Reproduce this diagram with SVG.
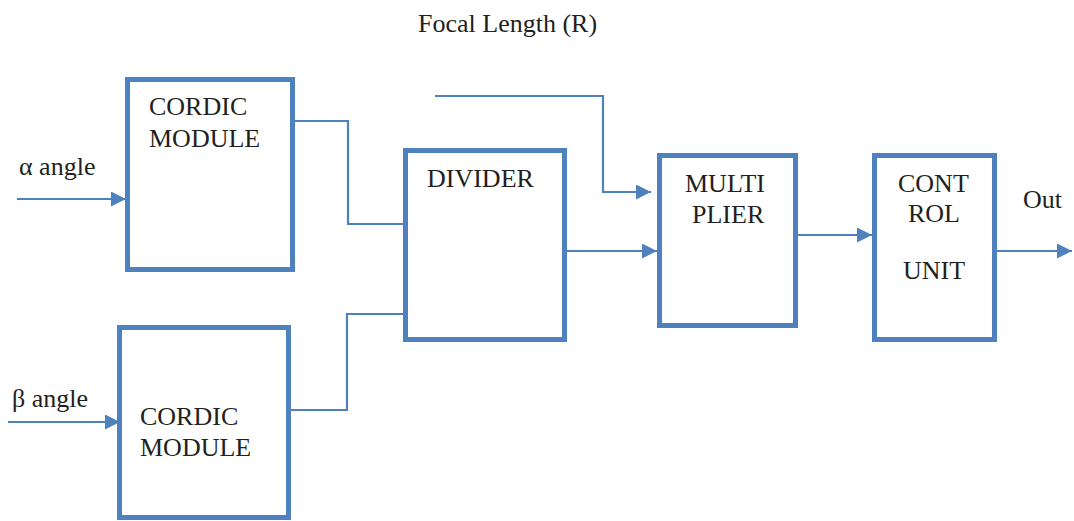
<svg xmlns="http://www.w3.org/2000/svg" width="1074" height="521" viewBox="0 0 1074 521">
<style>
.box{fill:#fff;stroke:#4F81BD;stroke-width:5}
.ln{fill:none;stroke:#4F81BD;stroke-width:2.2}
text{font-family:"Liberation Serif","Times New Roman",serif;font-size:26px;fill:#231f20}
</style>
<defs>
<marker id="ah" viewBox="0 0 16 16" refX="16" refY="8" markerWidth="15" markerHeight="15" markerUnits="userSpaceOnUse" orient="auto">
<path d="M0,0 L16,8 L0,16 Z" fill="#4F81BD"/>
</marker>
</defs>
<rect width="1074" height="521" fill="#fff"/>
<g id="connectors">
<line class="ln" x1="17" y1="199" x2="126" y2="199" marker-end="url(#ah)"/>
<line class="ln" x1="8" y1="422" x2="120" y2="422" marker-end="url(#ah)"/>
<polyline class="ln" points="295,121 348,121 348,224 403,224"/>
<polyline class="ln" points="291,410 347,410 347,314 403,314"/>
<polyline class="ln" points="435,96 603,96 603,192 651,192" marker-end="url(#ah)"/>
<line class="ln" x1="567" y1="251" x2="657" y2="251" marker-end="url(#ah)"/>
<line class="ln" x1="798" y1="235" x2="872" y2="235" marker-end="url(#ah)"/>
<line class="ln" x1="997" y1="251" x2="1072" y2="251" marker-end="url(#ah)"/>
</g>
<g id="labels">
<text x="418" y="32">Focal Length (R)</text>
<text x="19" y="175">α angle</text>
<text x="12" y="407">β angle</text>
<text x="1023" y="208">Out</text>
</g>
<g id="cordic1">
<rect class="box" x="127.5" y="79.5" width="165" height="190"/>
<text x="149" y="115">CORDIC</text>
<text x="149" y="147">MODULE</text>
</g>
<g id="cordic2">
<rect class="box" x="119.5" y="327.5" width="169" height="190"/>
<text x="140" y="425">CORDIC</text>
<text x="140" y="456">MODULE</text>
</g>
<g id="divider">
<rect class="box" x="405.5" y="150.5" width="159" height="189"/>
<text x="427" y="187">DIVIDER</text>
</g>
<g id="multiplier">
<rect class="box" x="659.5" y="155.5" width="136" height="170"/>
<text x="685" y="192">MULTI</text>
<text x="692" y="223">PLIER</text>
</g>
<g id="control">
<rect class="box" x="874.5" y="155.5" width="120" height="184"/>
<text x="898" y="192">CONT</text>
<text x="908" y="222">ROL</text>
<text x="903" y="279">UNIT</text>
</g>
</svg>
